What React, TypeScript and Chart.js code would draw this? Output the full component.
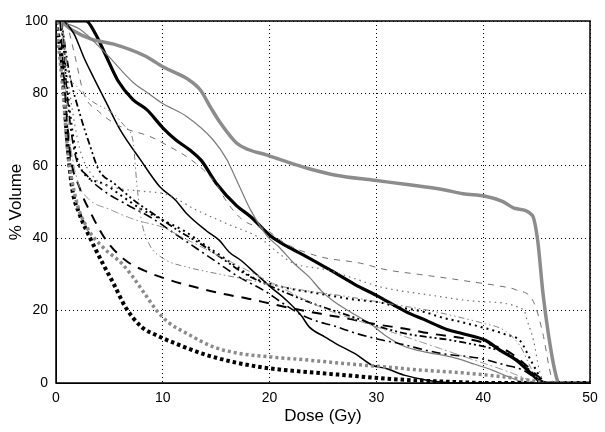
import React, { useEffect, useRef } from "react";
import { Chart, registerables } from "chart.js";

Chart.register(...registerables);

// Axis ticks
const xTickValues = [0, 10, 20, 30, 40, 50];
const yTickValues = [0, 20, 40, 60, 80, 100];
const xTitle = "Dose (Gy)";
const yTitle = "% Volume";

// Dose-volume curves: [dose (Gy), % volume]
const grayThickSolid: [number, number][] = [
  [0, 100], [0.6, 99.5], [1.5, 97.5], [3.3, 95], [5.4, 93.6], [8.3, 90.4], [10.1, 87.2],
  [12.3, 84], [13.5, 81], [14.5, 76], [15.4, 71.8], [16.9, 66.3], [18, 64.5], [19.7, 63],
  [21.9, 60.8], [23.7, 59.2], [26.2, 57.4], [29.8, 56], [32.7, 54.9], [36.3, 53.4],
  [38.1, 52.3], [40.2, 51.6], [41.8, 50.2], [43, 48.2], [44.6, 46.3], [45.1, 39.4],
  [45.6, 24.7], [46.1, 13.6], [46.7, 3.5], [47.1, 0], [50, 0],
];
const blackThickSolid: [number, number][] = [
  [0, 100], [2.8, 100], [3.7, 96.4], [4.6, 90.9], [5.8, 83.5], [7.2, 78.3], [8.5, 75.5],
  [10, 70.5], [11.2, 67.2], [12.6, 64.2], [13.6, 61.5], [15, 55.2], [16.9, 49], [18.2, 46],
  [20.1, 40.6], [21.6, 37.8], [23.4, 35], [25.5, 31.5], [28, 27.2], [30, 24.2], [32.7, 19.8],
  [34.5, 17.5], [36.6, 14.8], [38.1, 13.6], [40.2, 11.8], [41.6, 9], [43.1, 6.3],
  [44.5, 2.6], [45.2, 0.7], [46, 0], [50, 0],
];
const grayThinSolid: [number, number][] = [
  [0, 100], [2.2, 97.8], [4.7, 90.9], [7.2, 83.1], [8.7, 79.9], [10, 77.2], [12.2, 73.7],
  [14.7, 67.2], [16, 61.7], [16.6, 58], [17.3, 53.5], [18.2, 47.9], [19.8, 40.5],
  [20.9, 37.5], [22.3, 33], [23.7, 29.3], [24.8, 25.6], [25.9, 22.8], [27.3, 20.1],
  [29.5, 16.2], [30.9, 13], [32.7, 10], [34.5, 8.6], [37, 7.2], [39.1, 5.3], [40.9, 3.5],
  [42.4, 1.7], [44.2, 0], [50, 0],
];
const blackThinSolid: [number, number][] = [
  [0.8, 100], [1.7, 96.4], [2.6, 90], [3.5, 84.5], [4.7, 77.5], [6, 70], [7.9, 61.7],
  [9.7, 54.3], [11.2, 50.5], [12.2, 46.9], [14.1, 42], [15.3, 39.4], [16.2, 36.2],
  [17.3, 33.9], [18.7, 30.2], [20.1, 26.5], [21.6, 22.8], [23, 18.5], [23.7, 15.5],
  [25.2, 12.7], [26.2, 10.9], [28, 8.1], [29.6, 4.9], [30.9, 4], [32.7, 2.1], [34.5, 0.9],
  [36.3, 0.2], [37.5, 0], [50, 0],
];
const blackThickDotted: [number, number][] = [
  [0, 100], [0.6, 87], [1, 68.8], [1.5, 54], [2.2, 46.7], [3.3, 39.4], [4.4, 32.9],
  [5.4, 27.4], [6.5, 21], [8, 15.5], [9.4, 13.2], [11.2, 10.9], [13.7, 8.1], [16.6, 5.8],
  [20.1, 4], [23.7, 3], [27.3, 2.1], [30.9, 1.2], [34.5, 0.6], [38, 0.2], [40, 0], [50, 0],
];
const grayThickDotted: [number, number][] = [
  [0, 100], [0.6, 82.6], [1.1, 64.2], [1.9, 50.4], [2.9, 43], [4.4, 37.5], [6.2, 32.9],
  [7.2, 29.3], [8.3, 24.7], [9.4, 20.1], [10.5, 16.8], [12.3, 13.6], [14.8, 9.9],
  [17.3, 8.1], [20.1, 7.2], [23.7, 6.3], [27.3, 5.3], [30.9, 4.4], [34.5, 3.5],
  [38.1, 2.8], [41.6, 1.8], [44.5, 0.7], [46, 0], [50, 0],
];
const blackLongDash: [number, number][] = [
  [0.4, 100], [1.3, 64.2], [2.2, 54], [3.3, 46.7], [4.7, 39.4], [6.5, 33.9], [8.7, 30.5],
  [10.8, 28.3], [13, 26.5], [15.5, 24.7], [18, 23.3], [20.1, 21.9], [22.3, 20.5],
  [24.8, 19.1], [27.3, 17.8], [30, 16.2], [32.7, 15], [35.2, 13.6], [38.1, 12.4],
  [40.2, 11], [42.4, 8.6], [44.2, 4.4], [45.2, 1.7], [46, 0], [50, 0],
];
const blackDashDotDot: [number, number][] = [
  [0.5, 100], [1.25, 85.6], [2.3, 73.7], [3.1, 66.3], [4, 58.9], [5.5, 55], [7.5, 50],
  [9.5, 46], [11.5, 42], [13.5, 38.5], [15.5, 34.5], [17.5, 30.5], [19.5, 27.5],
  [21.5, 25], [24, 22], [26, 20], [28.5, 17.5], [30.3, 15.5], [33, 13.5], [36.6, 12],
  [38.5, 11], [40.5, 9.8], [42.5, 7.8], [44, 4.5], [45, 1.8], [46, 0], [50, 0],
];
const blackDashDot: [number, number][] = [
  [0.5, 100], [1.2, 75], [1.8, 63], [3, 57], [4.5, 53], [6.5, 49.5], [9, 45.5],
  [11, 41.5], [13, 37.5], [15, 33.5], [17, 29.5], [19.5, 25.5], [21.5, 21.5], [23, 18.8],
  [24.5, 17], [26, 15.8], [28, 13.8], [30.3, 12], [32, 11], [34, 9.5], [36, 8.2],
  [39.7, 6.8], [42, 5], [43.7, 3.6], [45, 1.2], [46, 0], [50, 0],
];
const blackDotted: [number, number][] = [
  [0.5, 100], [1.3, 75], [2.2, 60], [4.5, 55], [6, 52], [8, 48], [10, 45], [12, 42],
  [14, 38], [15.5, 35], [17, 32], [18.5, 29], [20, 27.5], [22, 26], [24, 25], [26, 24],
  [28, 23], [30.3, 22.3], [32, 21], [34.4, 19.7], [36, 18.2], [38, 16.8], [40, 15.3],
  [42, 13.5], [43.5, 11.5], [44.5, 6], [45.5, 1], [46, 0], [50, 0],
];
const grayDashed: [number, number][] = [
  [1, 100], [1.8, 90], [2.6, 80], [4, 75], [6, 70.9], [8.8, 68.1], [10.5, 65.5],
  [12.2, 62.6], [13.8, 58.9], [15, 55], [16, 50], [17.5, 45], [19.7, 42.3], [21.5, 38.5],
  [24.7, 34.9], [28.5, 33.1], [30.9, 31.3], [34, 30], [37, 28.8], [38.8, 28],
  [41.5, 26.8], [43.1, 25.7], [44.7, 22.5], [45.6, 13.5], [46.2, 4], [46.6, 0], [50, 0],
];
const grayDashDotDot: [number, number][] = [
  [0.6, 100], [1.1, 87], [2, 81.7], [3.3, 78], [5.4, 74.3], [6.5, 70.7], [7.2, 67],
  [7.6, 54], [8, 44.9], [8.7, 38.5], [10.1, 34.3], [12.3, 32], [15.1, 30.2], [18, 28.5],
  [20.1, 27.2], [23, 25.7], [27, 24], [31, 22], [35, 20], [38, 18], [40, 16.5], [42, 14.5],
  [43.5, 10], [44.5, 4], [45.5, 0], [50, 0],
];
const grayDotted: [number, number][] = [
  [0.5, 100], [1.3, 80], [2.2, 65], [3.5, 57], [5.5, 54], [8, 53], [10.5, 52], [13, 48],
  [16, 44], [19.1, 40], [21, 35.5], [22.2, 33.1], [25.3, 31.3], [28, 28.8], [30.3, 26.6],
  [35, 24.3], [39.7, 22.5], [43.8, 20.2], [44.1, 17.4], [44.7, 11.9], [45.3, 3],
  [45.8, 0], [50, 0],
];
const grayDashDot: [number, number][] = [
  [0.5, 100], [1.2, 70], [2, 56], [3, 51], [5, 48], [7.5, 45], [10, 43], [12, 40],
  [14, 37], [16, 34], [18, 31], [20, 28], [22, 25], [24, 22], [26, 19.5], [28, 17.5],
  [30, 15.5], [32, 13.5], [34, 11.5], [36, 9.5], [38, 7.5], [40, 5.5], [42, 3.5],
  [43.5, 1.8], [45, 0], [50, 0],
];

const FONT = "'Liberation Sans', Arial, Helvetica, sans-serif";

export default function App() {
  const canvasRef = useRef<HTMLCanvasElement | null>(null);

  useEffect(() => {
    if (!canvasRef.current) return;
    const toPts = (arr: [number, number][]) => arr.map(([x, y]) => ({ x, y }));
    const mk = (
      label: string,
      arr: [number, number][],
      color: string,
      width: number,
      dash: number[] = []
    ) => ({
      label,
      data: toPts(arr),
      borderColor: color,
      borderWidth: width,
      borderDash: dash,
      borderCapStyle: "butt" as const,
      borderJoinStyle: "round" as const,
      pointRadius: 0,
      fill: false,
      cubicInterpolationMode: "monotone" as const,
    });

    const framePlugin = {
      id: "frame",
      afterDatasetsDraw(chart: any) {
        const { ctx, chartArea } = chart;
        ctx.save();
        ctx.strokeStyle = "#000";
        ctx.lineWidth = 1.5;
        ctx.setLineDash([]);
        ctx.strokeRect(
          chartArea.left,
          chartArea.top,
          chartArea.right - chartArea.left,
          chartArea.bottom - chartArea.top
        );
        ctx.restore();
      },
    };

    const chart = new Chart(canvasRef.current, {
      type: "line",
      data: {
        datasets: [
          mk("grayDashDot", grayDashDot, "#9a9a9a", 1, [8, 3, 2, 3]),
          mk("grayDotted", grayDotted, "#6e6e6e", 1.2, [1.5, 4]),
          mk("grayDashDotDot", grayDashDotDot, "#808080", 1, [6, 3, 1.5, 3, 1.5, 3]),
          mk("grayDashed", grayDashed, "#707070", 1, [6, 6]),
          mk("blackDotted", blackDotted, "#000", 2, [2, 4]),
          mk("blackDashDot", blackDashDot, "#000", 1.6, [9, 4, 2, 4]),
          mk("blackDashDotDot", blackDashDotDot, "#000", 1.8, [7, 3, 2, 3, 2, 3]),
          mk("blackLongDash", blackLongDash, "#000", 2, [10, 8]),
          mk("grayThickDotted", grayThickDotted, "#8a8a8a", 3.5, [3, 3]),
          mk("blackThickDotted", blackThickDotted, "#000", 4, [3.5, 3]),
          mk("blackThinSolid", blackThinSolid, "#000", 1.5),
          mk("grayThinSolid", grayThinSolid, "#7a7a7a", 1.2),
          mk("grayThickSolid", grayThickSolid, "#8c8c8c", 3.5),
          mk("blackThickSolid", blackThickSolid, "#000", 3.2),
        ],
      },
      options: {
        animation: false,
        responsive: false,
        devicePixelRatio: 1,
        layout: { padding: { left: 0, right: 15, top: 21, bottom: 0 } },
        plugins: { legend: { display: false }, tooltip: { enabled: false } },
        scales: {
          x: {
            type: "linear",
            min: 0,
            max: 50,
            afterBuildTicks: (s: any) => {
              s.ticks = xTickValues.map((v) => ({ value: v }));
            },
            afterFit: (s: any) => {
              s.height = 49;
            },
            ticks: {
              color: "#000",
              font: { family: FONT, size: 14 },
              padding: 7,
              maxRotation: 0,
            },
            grid: { color: "#000", lineWidth: 1, drawTicks: false },
            border: { display: true, color: "#000", width: 1, dash: [1, 3] },
            title: {
              display: true,
              text: xTitle,
              color: "#000",
              font: { family: FONT, size: 17 },
              padding: { top: 0, bottom: 5 },
            },
          },
          y: {
            type: "linear",
            min: 0,
            max: 100,
            afterBuildTicks: (s: any) => {
              s.ticks = yTickValues.map((v) => ({ value: v }));
            },
            afterFit: (s: any) => {
              s.width = 56;
            },
            ticks: {
              color: "#000",
              font: { family: FONT, size: 14 },
              padding: 8,
            },
            grid: { color: "#000", lineWidth: 1, drawTicks: false },
            border: { display: true, color: "#000", width: 1, dash: [1, 3] },
            title: {
              display: true,
              text: yTitle,
              color: "#000",
              font: { family: FONT, size: 17 },
              padding: { top: 6, bottom: 0 },
            },
          },
        },
      },
      plugins: [framePlugin],
    });
    return () => chart.destroy();
  }, []);

  return (
    <div
      style={{
        position: "fixed",
        left: 0,
        top: 0,
        width: 605,
        height: 432,
        background: "#fff",
      }}
    >
      <canvas ref={canvasRef} width={605} height={432} />
    </div>
  );
}
